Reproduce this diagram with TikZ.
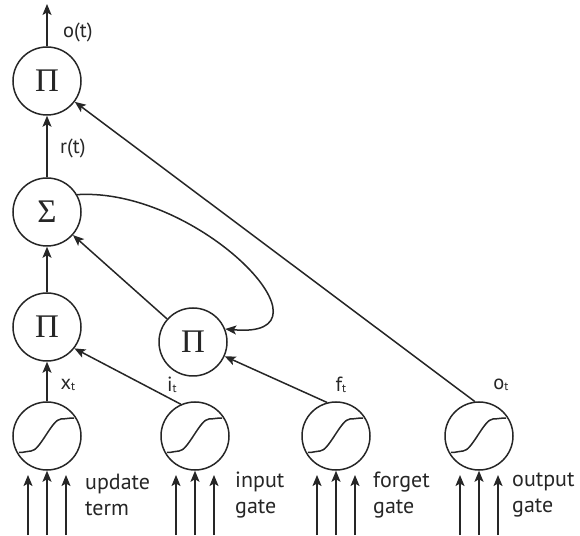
\documentclass[tikz,border=0pt]{standalone}
\usepackage{fontspec}
\setmainfont{PT Sans}
\newfontfamily\opfont{Liberation Serif}
\usetikzlibrary{arrows.meta}
\definecolor{ink}{HTML}{262626}
\begin{document}
\begin{tikzpicture}[x=1pt,y=1pt,
  every node/.style={text=ink},
  circ/.style={draw=ink, line width=1.5pt, circle, minimum size=68pt, inner sep=0pt},
  arr/.style={draw=ink, line width=1.5pt, -{Stealth[length=11pt,width=9pt,inset=2.5pt]}},
  sig/.style={draw=ink, line width=1.5pt},
  lbl/.style={font=\fontsize{20.5}{24}\selectfont, inner sep=0pt},
  gatelbl/.style={font=\fontsize{22}{26}\selectfont, align=left, anchor=west, inner sep=0pt},
  op/.style={font=\opfont\fontsize{33}{33}\selectfont}
]
\useasboundingbox (0,0) rectangle (580,535);

% operator nodes
\node[circ, op] (P1) at (47,454) {Π};
\node[circ, op] (S)  at (47,323) {Σ};
\node[circ, op] (P2) at (47,208) {Π};
\node[circ, op] (P3) at (193,193) {Π};

% sigmoid nodes
\foreach \g/\x in {1/47,2/195,3/336,4/479} {
  \node[circ] (G\g) at (\x,99) {};
  \draw[sig] ([shift={(-28,-16.5)}]G\g.center) .. controls +(6,0) and +(-4,0) .. ([shift={(-16,-15)}]G\g.center)
    .. controls +(9,0) and +(-9,0) .. ([shift={(14,17)}]G\g.center)
    .. controls +(4,0) and +(-5,0) .. ([shift={(27,18)}]G\g.center);
  \foreach \d/\n in {-19/a,19/c} {
    \coordinate (G\g\n0) at (\x+\d,0);
    \coordinate (G\g\n1) at (\x+\d,60);
    \draw[arr] (G\g\n0) -- (G\g\n1);
  }
  \coordinate (G\g b0) at (\x,0);
  \draw[arr] (G\g b0) -- (G\g.south);
}

% connectors
\coordinate (out) at (47,531);
\draw[arr] (P1.north) -- (out);
\draw[arr] (S) -- (P1);
\draw[arr] (P2) -- (S);
\draw[arr] (P3) -- (S);
\draw[arr] (G1) -- (P2);
\draw[arr] (G2.114) -- (P2.-38);
\draw[arr] (G3.105) -- (P3);
\draw[arr] (G4.97) -- (P1);
\draw[arr] (S.30) .. controls (200,348) and (345,195) .. (P3.22);

% labels
\node[lbl, anchor=west] (lo) at (63,503) {o(t)};
\node[lbl, anchor=west] (lr) at (60,387) {r(t)};
\node[lbl] (lx) at (68,150) {x\raisebox{-1pt}{\fontsize{12}{12}\selectfont t}};
\node[lbl] (li) at (172,150) {i\raisebox{-1pt}{\fontsize{12}{12}\selectfont t}};
\node[lbl] (lf) at (341,150) {f\raisebox{-1pt}{\fontsize{12}{12}\selectfont t}};
\node[lbl] (lo2) at (501,150) {o\raisebox{-1pt}{\fontsize{12}{12}\selectfont t}};

\node[gatelbl] (t1) at (85,40) {update\\term};
\node[gatelbl] (t2) at (235,40) {input\\gate};
\node[gatelbl] (t3) at (373,40) {forget\\gate};
\node[gatelbl] (t4) at (512,40) {output\\gate};
\end{tikzpicture}
\end{document}
